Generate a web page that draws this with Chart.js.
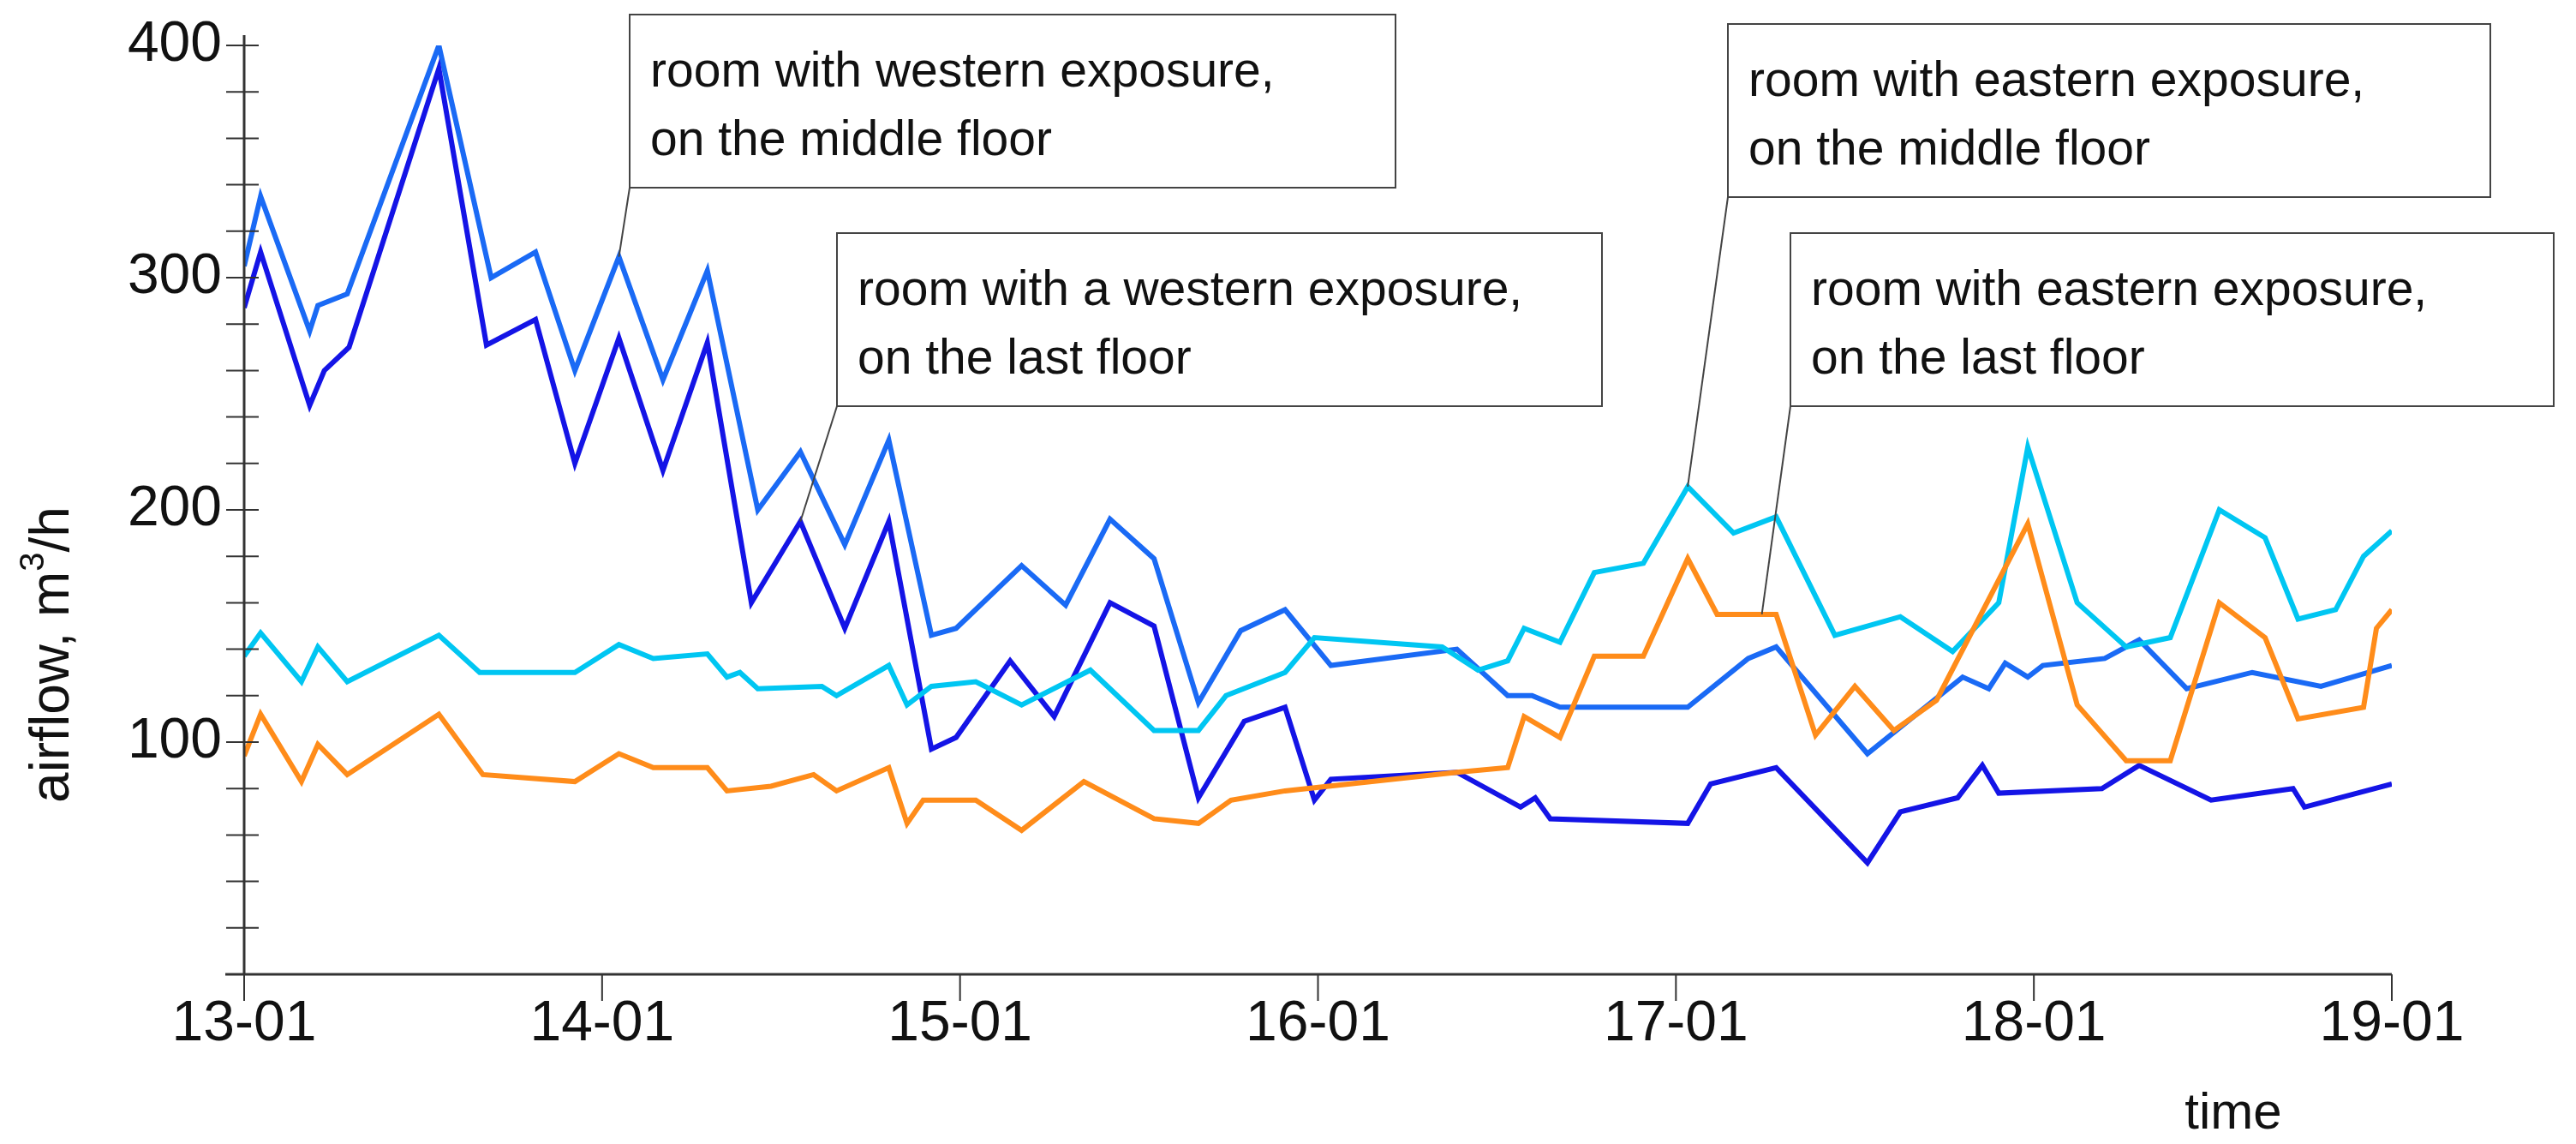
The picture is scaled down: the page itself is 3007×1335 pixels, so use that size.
<!DOCTYPE html>
<html>
<head>
<meta charset="utf-8">
<script src="https://cdn.jsdelivr.net/npm/chart.js@4/dist/chart.umd.min.js"></script>
<style>
  body { margin: 0; background: #fff; }
  canvas { display: block; }
</style>
</head>
<body>
<canvas id="grafico" width="3007" height="1335"></canvas>
<script>
// dias contados a partir de 13-01
const rotulosDias = ['13-01', '14-01', '15-01', '16-01', '17-01', '18-01', '19-01'];
const ticksY = [100, 200, 300, 400];

// oeste, andar do meio
const oesteMeioX = [0, 0.046, 0.183, 0.206, 0.288, 0.544, 0.690, 0.814, 0.924, 1.047, 1.170, 1.294, 1.435, 1.554, 1.678, 1.801, 1.920, 1.989, 2.172, 2.295, 2.419, 2.542, 2.666, 2.784, 2.908, 3.036, 3.388, 3.530, 3.598, 3.676, 4.033, 4.202, 4.280, 4.535, 4.801, 4.874, 4.920, 4.983, 5.025, 5.198, 5.294, 5.427, 5.610, 5.802, 6.0];
const oesteMeioY = [305, 335, 277, 288, 293, 400, 300, 311, 260, 309, 256, 303, 200, 225, 185, 230, 146, 149, 176, 159, 196, 179, 117, 148, 157, 133, 140, 120, 120, 115, 115, 136, 141, 95, 128, 123, 134, 128, 133, 136, 144, 123, 130, 124, 133];

// oeste, último andar
const oesteUltimoX = [0, 0.046, 0.183, 0.224, 0.293, 0.544, 0.677, 0.814, 0.924, 1.047, 1.170, 1.294, 1.417, 1.554, 1.678, 1.801, 1.920, 1.989, 2.140, 2.263, 2.419, 2.542, 2.666, 2.794, 2.908, 2.990, 3.036, 3.388, 3.566, 3.607, 3.649, 4.033, 4.097, 4.280, 4.535, 4.627, 4.787, 4.856, 4.902, 5.190, 5.294, 5.495, 5.724, 5.756, 6.0];
const oesteUltimoY = [287, 311, 245, 260, 270, 390, 271, 282, 220, 274, 217, 272, 160, 195, 149, 195, 97, 102, 135, 111, 160, 150, 76, 109, 115, 75, 84, 87, 72, 76, 67, 65, 82, 89, 48, 70, 76, 90, 78, 80, 90, 75, 80, 72, 82];

// leste, andar do meio
const lesteMeioX = [0, 0.046, 0.160, 0.206, 0.288, 0.544, 0.658, 0.924, 1.047, 1.143, 1.294, 1.349, 1.385, 1.435, 1.614, 1.655, 1.801, 1.852, 1.920, 2.044, 2.172, 2.364, 2.542, 2.666, 2.743, 2.908, 2.990, 3.347, 3.447, 3.530, 3.576, 3.676, 3.772, 3.909, 4.033, 4.161, 4.280, 4.444, 4.627, 4.773, 4.902, 4.983, 5.121, 5.258, 5.381, 5.518, 5.646, 5.738, 5.843, 5.921, 6.0];
const lesteMeioY = [137, 147, 126, 141, 126, 146, 130, 130, 142, 136, 138, 128, 130, 123, 124, 120, 133, 116, 124, 126, 116, 131, 105, 105, 120, 130, 145, 141, 131, 135, 149, 143, 173, 177, 210, 190, 197, 146, 154, 139, 160, 227, 160, 141, 145, 200, 188, 153, 157, 180, 191];

// leste, último andar
const lesteUltimoX = [0, 0.046, 0.160, 0.206, 0.288, 0.544, 0.667, 0.924, 1.047, 1.143, 1.294, 1.349, 1.472, 1.591, 1.655, 1.801, 1.852, 1.897, 2.044, 2.172, 2.346, 2.542, 2.666, 2.757, 2.908, 3.388, 3.530, 3.576, 3.676, 3.772, 3.909, 4.033, 4.115, 4.280, 4.390, 4.500, 4.609, 4.728, 4.983, 5.121, 5.258, 5.381, 5.518, 5.646, 5.738, 5.921, 5.957, 6.0];
const lesteUltimoY = [94, 112, 83, 99, 86, 112, 86, 83, 95, 89, 89, 79, 81, 86, 79, 89, 65, 75, 75, 62, 83, 67, 65, 75, 79, 87, 89, 111, 102, 137, 137, 179, 155, 155, 103, 124, 105, 118, 194, 116, 92, 92, 160, 145, 110, 115, 149, 157];

const anotacoes = [
    { linhas: ['room with western exposure,', 'on the middle floor'], caixa: [735, 17, 1629, 219], alvo: [1.047, 309] },
    { linhas: ['room with a western exposure,', 'on the last floor'], caixa: [977, 272, 1870, 474], alvo: [1.554, 195] },
    { linhas: ['room with eastern exposure,', 'on the middle floor'], caixa: [2017, 28, 2907, 230], alvo: [4.033, 210] },
    { linhas: ['room with eastern exposure,', 'on the last floor'], caixa: [2090, 272, 2981, 474], alvo: [4.240, 155] }
];

function montarSerie(xs, ys) {
    return xs.map((x, i) => ({ x: x, y: ys[i] }));
}

function serie(rotulo, xs, ys, cor) {
    return {
        label: rotulo,
        data: montarSerie(xs, ys),
        borderColor: cor,
        borderWidth: 6,
        pointRadius: 0,
        fill: false,
        tension: 0
    };
}

const FONTE = '"Liberation Sans", Arial, sans-serif';

// eixos e anotações desenhados à mão
const pluginEixos = {
    id: 'eixos',
    afterDatasetsDraw(chart) {
        const ctx = chart.ctx;
        const sx = chart.scales.x;
        const sy = chart.scales.y;
        const x0 = sx.getPixelForValue(0);
        const y0 = sy.getPixelForValue(0);
        ctx.save();
        ctx.strokeStyle = '#333';
        ctx.lineWidth = 3;
        ctx.beginPath();
        ctx.moveTo(x0, sy.getPixelForValue(400) - 12);
        ctx.lineTo(x0, y0);
        ctx.moveTo(x0 - 22, y0);
        ctx.lineTo(sx.getPixelForValue(6), y0);
        ctx.stroke();

        ctx.lineWidth = 2;
        ctx.beginPath();
        for (let v = 20; v <= 400; v += 20) {
            const py = sy.getPixelForValue(v);
            ctx.moveTo(x0 - 21, py);
            ctx.lineTo(x0 + 17, py);
        }
        for (let d = 0; d <= 6; d++) {
            const px = sx.getPixelForValue(d);
            ctx.moveTo(px, y0);
            ctx.lineTo(px, y0 + 31);
        }
        ctx.stroke();

        ctx.fillStyle = '#111';
        ctx.font = '66px ' + FONTE;
        ctx.textAlign = 'right';
        ctx.textBaseline = 'middle';
        ticksY.forEach(v => ctx.fillText(String(v), x0 - 26, sy.getPixelForValue(v)));
        ctx.textAlign = 'center';
        ctx.font = '66px ' + FONTE;
        rotulosDias.forEach((r, d) => ctx.fillText(r, sx.getPixelForValue(d), 1196));
        ctx.font = '60px ' + FONTE;
        ctx.fillText('time', 2607, 1300);

        ctx.save();
        ctx.translate(62, 764);
        ctx.rotate(-Math.PI / 2);
        ctx.font = '64px ' + FONTE;
        const base = 'airflow, m';
        const resto = '/h';
        const wBase = ctx.measureText(base).width;
        ctx.font = '40px ' + FONTE;
        const wSup = ctx.measureText('3').width;
        ctx.font = '64px ' + FONTE;
        const wResto = ctx.measureText(resto).width;
        let inicio = -(wBase + wSup + wResto) / 2;
        ctx.textAlign = 'left';
        ctx.fillText(base, inicio, 0);
        ctx.font = '40px ' + FONTE;
        ctx.fillText('3', inicio + wBase, -22);
        ctx.font = '64px ' + FONTE;
        ctx.fillText(resto, inicio + wBase + wSup, 0);
        ctx.restore();

        // caixas de texto com linha de chamada
        anotacoes.forEach(a => {
            const [l, t, r, b] = a.caixa;
            ctx.lineWidth = 2;
            ctx.strokeStyle = '#444';
            ctx.beginPath();
            ctx.moveTo(l, b);
            ctx.lineTo(sx.getPixelForValue(a.alvo[0]), sy.getPixelForValue(a.alvo[1]));
            ctx.stroke();
            ctx.fillStyle = '#fff';
            ctx.fillRect(l, t, r - l, b - t);
            ctx.strokeRect(l, t, r - l, b - t);
            ctx.fillStyle = '#111';
            ctx.font = '57px ' + FONTE;
            ctx.textAlign = 'left';
            ctx.textBaseline = 'alphabetic';
            ctx.fillText(a.linhas[0], l + 24, t + 84);
            ctx.fillText(a.linhas[1], l + 24, t + 164);
        });
        ctx.restore();
    }
};

new Chart(document.getElementById('grafico'), {
    type: 'line',
    data: {
        datasets: [
            serie('room with eastern exposure, on the last floor', lesteUltimoX, lesteUltimoY, '#ff8c1a'),
            serie('room with eastern exposure, on the middle floor', lesteMeioX, lesteMeioY, '#00c6f2'),
            serie('room with a western exposure, on the last floor', oesteUltimoX, oesteUltimoY, '#1414e6'),
            serie('room with western exposure, on the middle floor', oesteMeioX, oesteMeioY, '#1a6af5')
        ]
    },
    options: {
        responsive: false,
        animation: false,
        devicePixelRatio: 1,
        layout: { padding: { left: 285, right: 215, top: 53, bottom: 198 } },
        plugins: { legend: { display: false }, tooltip: { enabled: false } },
        scales: {
            x: { type: 'linear', min: 0, max: 6, display: false },
            y: { min: 0, max: 400, display: false }
        }
    },
    plugins: [pluginEixos]
});
</script>
</body>
</html>
